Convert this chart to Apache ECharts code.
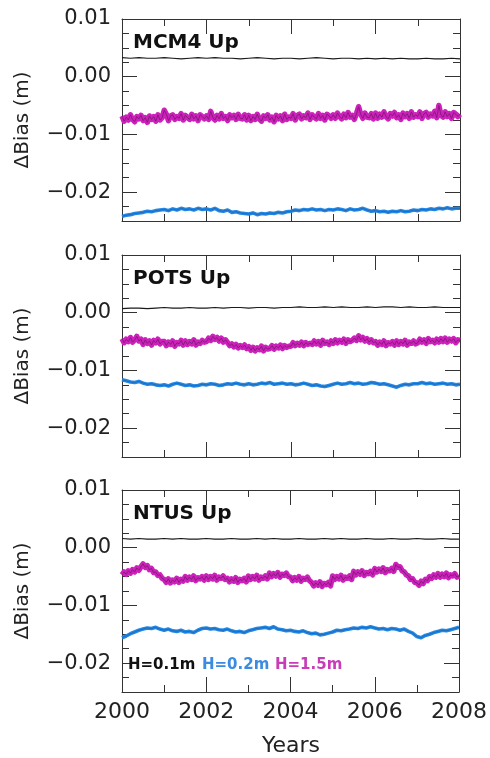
<!DOCTYPE html>
<html>
<head>
<meta charset="utf-8">
<script src="https://cdn.jsdelivr.net/npm/echarts@6/dist/echarts.min.js"></script>
<style>html,body{margin:0;padding:0;background:#fff;}#chart{width:490px;height:758px;}</style>
</head>
<body>
<div id="chart"></div>
<script>
// ---------- DATA ----------
const stationNames = ['MCM4 Up', 'POTS Up', 'NTUS Up'];
const legendLabels = ['H=0.1m', 'H=0.2m', 'H=1.5m'];
const xTickLabels = [2000, 2002, 2004, 2006, 2008];
const yTickValues = [-0.02, -0.01, 0.00, 0.01];
const startYear = 2000;
const stepBlack = 0.2;   // years between samples
const stepBlue = 0.1;
const stepMag = 0.05;

// H=0.1m (black)
const MCM4_black = [
0.0033,0.0032,0.0033,0.0032,0.0032,0.0033,0.0032,0.0031,0.0032,0.0033,
0.0032,0.0033,0.0032,0.0032,0.0031,0.0032,0.0033,0.0032,0.0031,0.0032,
0.0032,0.0031,0.0032,0.0033,0.0032,0.0031,0.0032,0.0032,0.0031,0.0032,
0.0031,0.0032,0.0031,0.0032,0.0031,0.0031,0.0032,0.0031,0.0031,0.0032,
0.0031];
const POTS_black = [
0.0007,0.0008,0.0008,0.0007,0.0008,0.0009,0.0008,0.0008,0.0009,0.0008,
0.0008,0.0009,0.0008,0.0009,0.0009,0.0008,0.0009,0.0009,0.0008,0.0009,
0.0009,0.0010,0.0009,0.0009,0.0010,0.0009,0.0010,0.0009,0.0009,0.0010,
0.0009,0.0010,0.0010,0.0009,0.0010,0.0009,0.0009,0.0010,0.0009,0.0009,
0.0009];
const NTUS_black = [
0.0016,0.0015,0.0016,0.0015,0.0015,0.0016,0.0015,0.0016,0.0015,0.0015,
0.0016,0.0015,0.0015,0.0016,0.0015,0.0015,0.0016,0.0015,0.0016,0.0015,
0.0015,0.0016,0.0015,0.0015,0.0016,0.0015,0.0016,0.0015,0.0015,0.0016,
0.0015,0.0015,0.0016,0.0015,0.0015,0.0016,0.0015,0.0015,0.0016,0.0015,
0.0015];

// H=0.2m (blue)
const MCM4_blue = [
-0.0242,-0.0240,-0.0239,-0.0237,-0.0236,-0.0235,-0.0233,-0.0234,-0.0232,-0.0231,
-0.0230,-0.0232,-0.0229,-0.0231,-0.0228,-0.0230,-0.0229,-0.0231,-0.0228,-0.0230,
-0.0229,-0.0231,-0.0228,-0.0232,-0.0233,-0.0231,-0.0235,-0.0234,-0.0236,-0.0237,
-0.0238,-0.0236,-0.0239,-0.0237,-0.0238,-0.0236,-0.0237,-0.0235,-0.0236,-0.0234,
-0.0233,-0.0231,-0.0232,-0.0230,-0.0231,-0.0229,-0.0231,-0.0230,-0.0232,-0.0230,
-0.0231,-0.0229,-0.0230,-0.0232,-0.0229,-0.0231,-0.0230,-0.0228,-0.0231,-0.0233,
-0.0232,-0.0234,-0.0233,-0.0235,-0.0233,-0.0234,-0.0232,-0.0234,-0.0233,-0.0231,
-0.0232,-0.0230,-0.0231,-0.0229,-0.0230,-0.0228,-0.0229,-0.0227,-0.0229,-0.0228,
-0.0228];
const POTS_blue = [
-0.0116,-0.0118,-0.0120,-0.0121,-0.0119,-0.0122,-0.0124,-0.0123,-0.0125,-0.0126,
-0.0125,-0.0127,-0.0124,-0.0122,-0.0124,-0.0126,-0.0125,-0.0127,-0.0126,-0.0124,
-0.0125,-0.0123,-0.0124,-0.0126,-0.0125,-0.0123,-0.0124,-0.0122,-0.0124,-0.0125,
-0.0123,-0.0125,-0.0124,-0.0122,-0.0123,-0.0121,-0.0124,-0.0123,-0.0122,-0.0124,
-0.0123,-0.0125,-0.0124,-0.0122,-0.0124,-0.0126,-0.0125,-0.0127,-0.0128,-0.0126,
-0.0124,-0.0122,-0.0124,-0.0123,-0.0121,-0.0123,-0.0122,-0.0124,-0.0123,-0.0121,
-0.0122,-0.0124,-0.0123,-0.0125,-0.0127,-0.0129,-0.0126,-0.0124,-0.0125,-0.0123,
-0.0123,-0.0121,-0.0123,-0.0122,-0.0124,-0.0123,-0.0122,-0.0124,-0.0123,-0.0125,
-0.0124];
const NTUS_blue = [
-0.0156,-0.0153,-0.0149,-0.0146,-0.0143,-0.0141,-0.0139,-0.0140,-0.0138,-0.0141,
-0.0143,-0.0141,-0.0144,-0.0145,-0.0143,-0.0146,-0.0145,-0.0147,-0.0143,-0.0140,
-0.0139,-0.0141,-0.0140,-0.0142,-0.0143,-0.0141,-0.0144,-0.0146,-0.0145,-0.0147,
-0.0144,-0.0142,-0.0140,-0.0139,-0.0138,-0.0140,-0.0137,-0.0141,-0.0142,-0.0144,
-0.0143,-0.0145,-0.0146,-0.0144,-0.0147,-0.0149,-0.0148,-0.0151,-0.0150,-0.0148,
-0.0146,-0.0143,-0.0144,-0.0142,-0.0141,-0.0139,-0.0140,-0.0138,-0.0139,-0.0137,
-0.0139,-0.0141,-0.0140,-0.0142,-0.0140,-0.0141,-0.0143,-0.0141,-0.0145,-0.0148,
-0.0154,-0.0156,-0.0152,-0.0150,-0.0147,-0.0145,-0.0143,-0.0144,-0.0142,-0.0140,
-0.0138];

// H=1.5m (magenta)
const MCM4_mag = [
-0.0068,-0.0077,-0.0070,-0.0075,-0.0066,-0.0074,-0.0078,-0.0069,-0.0073,-0.0067,
-0.0076,-0.0071,-0.0079,-0.0068,-0.0074,-0.0069,-0.0077,-0.0066,-0.0075,-0.0071,
-0.0058,-0.0065,-0.0076,-0.0068,-0.0066,-0.0074,-0.0069,-0.0072,-0.0064,-0.0075,
-0.0067,-0.0071,-0.0074,-0.0065,-0.0073,-0.0068,-0.0076,-0.0066,-0.0069,-0.0073,
-0.0068,-0.0074,-0.0060,-0.0071,-0.0075,-0.0067,-0.0073,-0.0064,-0.0072,-0.0069,
-0.0076,-0.0066,-0.0071,-0.0067,-0.0074,-0.0065,-0.0072,-0.0073,-0.0066,-0.0075,
-0.0067,-0.0076,-0.0069,-0.0074,-0.0065,-0.0073,-0.0077,-0.0068,-0.0072,-0.0066,
-0.0075,-0.0070,-0.0078,-0.0067,-0.0073,-0.0068,-0.0076,-0.0065,-0.0074,-0.0070,
-0.0072,-0.0064,-0.0075,-0.0067,-0.0065,-0.0073,-0.0068,-0.0071,-0.0063,-0.0074,
-0.0066,-0.0070,-0.0073,-0.0064,-0.0072,-0.0067,-0.0075,-0.0065,-0.0068,-0.0072,
-0.0066,-0.0072,-0.0063,-0.0069,-0.0073,-0.0065,-0.0071,-0.0062,-0.0070,-0.0067,
-0.0074,-0.0064,-0.0052,-0.0065,-0.0072,-0.0063,-0.0070,-0.0071,-0.0064,-0.0073,
-0.0063,-0.0072,-0.0065,-0.0070,-0.0061,-0.0069,-0.0073,-0.0064,-0.0068,-0.0062,
-0.0071,-0.0066,-0.0074,-0.0063,-0.0069,-0.0064,-0.0072,-0.0061,-0.0070,-0.0066,
-0.0069,-0.0061,-0.0072,-0.0064,-0.0062,-0.0070,-0.0065,-0.0068,-0.0060,-0.0071,
-0.0050,-0.0067,-0.0070,-0.0061,-0.0069,-0.0064,-0.0072,-0.0062,-0.0065,-0.0069,
-0.0065];
const POTS_mag = [
-0.0045,-0.0052,-0.0046,-0.0050,-0.0043,-0.0051,-0.0047,-0.0041,-0.0049,-0.0046,
-0.0055,-0.0047,-0.0053,-0.0049,-0.0056,-0.0048,-0.0052,-0.0046,-0.0054,-0.0050,
-0.0050,-0.0057,-0.0051,-0.0055,-0.0049,-0.0058,-0.0052,-0.0054,-0.0048,-0.0056,
-0.0049,-0.0055,-0.0050,-0.0054,-0.0047,-0.0056,-0.0051,-0.0053,-0.0048,-0.0051,
-0.0050,-0.0044,-0.0048,-0.0041,-0.0046,-0.0043,-0.0049,-0.0044,-0.0051,-0.0047,
-0.0052,-0.0057,-0.0054,-0.0059,-0.0055,-0.0061,-0.0057,-0.0060,-0.0056,-0.0062,
-0.0059,-0.0065,-0.0060,-0.0066,-0.0061,-0.0064,-0.0058,-0.0066,-0.0060,-0.0063,
-0.0062,-0.0057,-0.0063,-0.0058,-0.0061,-0.0056,-0.0062,-0.0057,-0.0060,-0.0058,
-0.0058,-0.0052,-0.0057,-0.0053,-0.0056,-0.0051,-0.0057,-0.0052,-0.0055,-0.0053,
-0.0055,-0.0049,-0.0054,-0.0050,-0.0056,-0.0048,-0.0053,-0.0051,-0.0055,-0.0049,
-0.0053,-0.0047,-0.0052,-0.0048,-0.0051,-0.0046,-0.0053,-0.0047,-0.0050,-0.0048,
-0.0044,-0.0048,-0.0040,-0.0047,-0.0043,-0.0049,-0.0045,-0.0051,-0.0047,-0.0052,
-0.0050,-0.0056,-0.0051,-0.0055,-0.0049,-0.0057,-0.0052,-0.0054,-0.0050,-0.0056,
-0.0049,-0.0055,-0.0050,-0.0054,-0.0048,-0.0056,-0.0051,-0.0053,-0.0049,-0.0054,
-0.0052,-0.0046,-0.0051,-0.0047,-0.0053,-0.0045,-0.0050,-0.0048,-0.0052,-0.0046,
-0.0051,-0.0045,-0.0050,-0.0044,-0.0051,-0.0046,-0.0049,-0.0045,-0.0052,-0.0047,
-0.0048];
const NTUS_mag = [
-0.0047,-0.0042,-0.0046,-0.0040,-0.0044,-0.0038,-0.0042,-0.0035,-0.0039,-0.0033,
-0.0028,-0.0034,-0.0031,-0.0038,-0.0036,-0.0043,-0.0042,-0.0048,-0.0047,-0.0053,
-0.0055,-0.0060,-0.0054,-0.0061,-0.0056,-0.0059,-0.0053,-0.0060,-0.0055,-0.0058,
-0.0050,-0.0056,-0.0051,-0.0055,-0.0049,-0.0057,-0.0052,-0.0054,-0.0050,-0.0056,
-0.0049,-0.0055,-0.0050,-0.0054,-0.0048,-0.0056,-0.0051,-0.0053,-0.0049,-0.0055,
-0.0053,-0.0059,-0.0054,-0.0058,-0.0052,-0.0060,-0.0055,-0.0057,-0.0053,-0.0059,
-0.0049,-0.0055,-0.0050,-0.0054,-0.0048,-0.0056,-0.0051,-0.0053,-0.0049,-0.0054,
-0.0044,-0.0050,-0.0045,-0.0049,-0.0043,-0.0051,-0.0046,-0.0048,-0.0044,-0.0050,
-0.0051,-0.0057,-0.0052,-0.0056,-0.0050,-0.0058,-0.0053,-0.0055,-0.0051,-0.0057,
-0.0060,-0.0066,-0.0061,-0.0065,-0.0059,-0.0067,-0.0062,-0.0064,-0.0060,-0.0066,
-0.0049,-0.0055,-0.0050,-0.0054,-0.0048,-0.0056,-0.0051,-0.0053,-0.0049,-0.0055,
-0.0041,-0.0047,-0.0042,-0.0046,-0.0040,-0.0048,-0.0043,-0.0045,-0.0041,-0.0047,
-0.0036,-0.0042,-0.0037,-0.0041,-0.0035,-0.0043,-0.0038,-0.0040,-0.0036,-0.0041,
-0.0029,-0.0034,-0.0033,-0.0040,-0.0042,-0.0047,-0.0049,-0.0055,-0.0054,-0.0060,
-0.0061,-0.0065,-0.0058,-0.0062,-0.0055,-0.0057,-0.0050,-0.0053,-0.0047,-0.0051,
-0.0045,-0.0051,-0.0046,-0.0050,-0.0044,-0.0052,-0.0047,-0.0049,-0.0045,-0.0051,
-0.0049];

const blackSeries = [MCM4_black, POTS_black, NTUS_black];
const blueSeries = [MCM4_blue, POTS_blue, NTUS_blue];
const magSeries = [MCM4_mag, POTS_mag, NTUS_mag];

// ---------- LAYOUT / STYLE ----------
const colors = { black: '#1a1a1a', blue: '#2487e2', blueCore: '#1a5fae', mag: '#cc22bb', magCore: '#7a1670' };
const textColors = { black: '#111', blue: '#3a8ce0', mag: '#c83cb8' };
const gridTops = [19, 255, 490];
const gridLeft = 122, gridWidth = 338, gridHeight = 202;
const yMin = -0.025, yMax = 0.01;
const axisColor = '#333';
const FONT = '"DejaVu Sans", "Liberation Sans", sans-serif';

const toPairs = (arr, step) => arr.map((v, i) => [startYear + i * step, v]);
const fmtY = v => {
  const s = (Math.abs(v) < 1e-9 ? 0 : v).toFixed(2);
  return s.replace('-', '\u2212');
};

const grid = [], xAxis = [], yAxis = [], series = [], graphic = [];

gridTops.forEach((top, g) => {
  grid.push({ left: gridLeft, top: top, width: gridWidth, height: gridHeight });
  ['bottom', 'top'].forEach(pos => {
    xAxis.push({
      gridIndex: g, type: 'value', position: pos,
      min: xTickLabels[0], max: xTickLabels[xTickLabels.length - 1], interval: 2,
      axisLine: { show: true, onZero: false, lineStyle: { color: axisColor, width: 1 } },
      axisTick: { show: true, inside: true, length: 15, lineStyle: { color: axisColor, width: 1 } },
      minorTick: { show: true, splitNumber: 2, length: 7, lineStyle: { color: axisColor, width: 1 } },
      splitLine: { show: false }, minorSplitLine: { show: false },
      axisLabel: {
        show: pos === 'bottom' && g === 2, margin: 9, fontSize: 22, fontFamily: FONT, color: '#222',
        formatter: v => String(v)
      }
    });
  });
  ['left', 'right'].forEach(pos => {
    yAxis.push({
      gridIndex: g, type: 'value', position: pos, min: yMin, max: yMax,
      axisLine: { show: true, onZero: false, lineStyle: { color: axisColor, width: 1 } },
      axisTick: { show: true, inside: true, length: 15, customValues: yTickValues, lineStyle: { color: axisColor, width: 1 } },
      axisLabel: {
        show: pos === 'left', customValues: yTickValues, margin: 11, fontSize: 21, fontFamily: FONT, color: '#222',
        formatter: fmtY
      },
      splitLine: { show: false }
    });
    yAxis.push({
      gridIndex: g, type: 'value', position: pos, min: yMin, max: yMax, interval: 0.0025,
      axisLine: { show: false },
      axisTick: { show: true, inside: true, length: 7, lineStyle: { color: axisColor, width: 1 } },
      axisLabel: { show: false },
      splitLine: { show: false }
    });
  });

  const xi = g * 2, yi = g * 4;
  const line = (data, color, width, z, opacity) => ({
    type: 'line', xAxisIndex: xi, yAxisIndex: yi, data: data,
    showSymbol: false, symbol: 'none', animation: false, z: z,
    lineStyle: { color: color, width: width, opacity: opacity === undefined ? 1 : opacity, join: 'round' }
  });
  const bk = toPairs(blackSeries[g], stepBlack);
  const bl = toPairs(blueSeries[g], stepBlue);
  const mg = toPairs(magSeries[g], stepMag);
  series.push(line(bk, colors.black, 1.2, 3));
  series.push(line(bl, colors.blue, 3.6, 3));
  series.push(line(bl, colors.blueCore, 0.9, 4, 0.75));
  series.push(line(mg, colors.mag, 5.5, 3));
  series.push(line(mg, colors.magCore, 1.0, 4, 0.8));

  graphic.push({
    type: 'text', x: 133, y: top + 24, z: 10,
    style: { text: stationNames[g], fontSize: 20, fontWeight: 'bold', fontFamily: FONT, fill: '#111', align: 'left', verticalAlign: 'middle' }
  });
  graphic.push({
    type: 'text', x: 23, y: top + gridHeight / 2, rotation: Math.PI / 2, z: 10,
    style: { text: '\u0394Bias (m)', fontSize: 20, fontFamily: FONT, fill: '#222', align: 'center', verticalAlign: 'middle' }
  });
});

graphic.push({
  type: 'text', x: 291, y: 746, z: 10,
  style: { text: 'Years', fontSize: 22, fontFamily: FONT, fill: '#222', align: 'center', verticalAlign: 'middle' }
});
const legendX = [128, 202, 275];
const legendCols = [textColors.black, textColors.blue, textColors.mag];
legendLabels.forEach((t, i) => {
  graphic.push({
    type: 'text', x: legendX[i], y: 665, z: 10,
    style: { text: t, fontSize: 15, fontWeight: 'bold', fontFamily: FONT, fill: legendCols[i], align: 'left', verticalAlign: 'middle' }
  });
});

const chart = echarts.init(document.getElementById('chart'), null, { renderer: 'canvas' });
chart.setOption({
  animation: false,
  backgroundColor: '#fff',
  grid, xAxis, yAxis, series, graphic
});
</script>
</body>
</html>
